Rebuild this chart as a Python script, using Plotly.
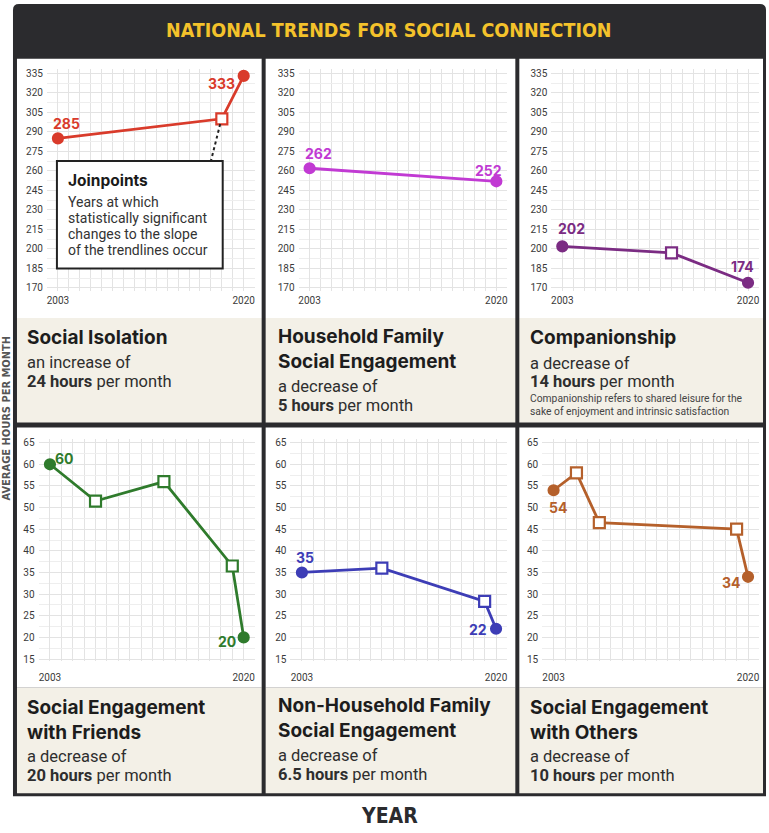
import plotly.graph_objects as go

W, H = 769, 833

# ---- data: hours per month, endpoints and joinpoint years ----
years_isolation = [2003, 2018, 2020]
hours_isolation = [285, 300, 333]

years_household = [2003, 2020]
hours_household = [262, 252]

years_companion = [2003, 2013, 2020]
hours_companion = [202, 197, 174]

years_friends = [2003, 2007, 2013, 2019, 2020]
hours_friends = [60, 51.5, 56, 36.5, 20]

years_nonhousehold = [2003, 2010, 2019, 2020]
hours_nonhousehold = [35, 36, 28.3, 22]

years_others = [2003, 2005, 2007, 2019, 2020]
hours_others = [54, 58, 46.5, 45, 34]

x_ticks = [2003, 2020]
y_ticks_top = list(range(170, 336, 15))
y_ticks_bottom = list(range(15, 66, 5))

titles = [
    ["Social Isolation"],
    ["Household Family", "Social Engagement"],
    ["Companionship"],
    ["Social Engagement", "with Friends"],
    ["Non-Household Family", "Social Engagement"],
    ["Social Engagement", "with Others"],
]
changes = [
    ("an increase of", "24 hours"),
    ("a decrease of", "5 hours"),
    ("a decrease of", "14 hours"),
    ("a decrease of", "20 hours"),
    ("a decrease of", "6.5 hours"),
    ("a decrease of", "10 hours"),
]
companion_note = [
    "Companionship refers to shared leisure for the",
    "sake of enjoyment and intrinsic satisfaction",
]

# ---- styling / layout helpers (pixel -> paper) ----
def px(x):
    return x / W


def py(y):
    return 1 - y / H


FRAME = "#2b2b2e"
BEIGE = "#f3f0e7"
GRID = "#e3e3e3"
GRID_MINOR = "#eeeeee"
TEXT = "#1d1d1d"
SUB = "#2e2e2e"
FONT = "Roboto"
HEAD = "Inter, Roboto, sans-serif"
NARROW = "DejaVu Sans Condensed, Liberation Sans Narrow, Roboto, sans-serif"

cols = [(17, 262), (266, 516), (520, 764)]
rows = [dict(chart=(57, 318), text=(318, 423)), dict(chart=(428, 690), text=(690, 796))]

panels = [
    dict(years=years_isolation, hours=hours_isolation, color="#d93b2b",
         xmap=((2003, 58), (2020, 244)), labels={0: (9, 15), -1: (-22, -8)}),
    dict(years=years_household, hours=hours_household, color="#c13ad3",
         xmap=((2003, 310), (2020, 497)), labels={0: (9, 15), -1: (-8, 11)}),
    dict(years=years_companion, hours=hours_companion, color="#7b2c83",
         xmap=((2003, 563), (2020, 749)), labels={0: (9, 18), -1: (-6, 16)}),
    dict(years=years_friends, hours=hours_friends, color="#2f7b2c",
         xmap=((2003, 50), (2020, 244)), labels={0: (15, 6), -1: (-17, -4)}),
    dict(years=years_nonhousehold, hours=hours_nonhousehold, color="#3d3db6",
         xmap=((2003, 302.3), (2020, 496.7)), labels={0: (3, 15), -1: (-18, -1)}),
    dict(years=years_others, hours=hours_others, color="#b5602b",
         xmap=((2003, 554.3), (2020, 749)), labels={0: (4, -17), -1: (-17, -6)}),
]

ymaps = [((335, 71.7), (170, 287.7)), ((65, 443.3), (15, 661))]
x_range = [2002, 2021]
y_ranges = [[168, 338], [14.5, 65.8]]


def domain(vmap, rng, vertical):
    (v1, p1), (v2, p2) = vmap
    k = (p2 - p1) / (v2 - v1)
    a = p1 + (rng[0] - v1) * k
    b = p1 + (rng[1] - v1) * k
    if vertical:
        return [py(a), py(b)]
    return [px(a), px(b)]


def paper_text(x, y, text, size, color, family=FONT, xanchor="left", **kw):
    return dict(x=px(x), y=py(y), xref="paper", yref="paper", xanchor=xanchor,
                yanchor="middle", showarrow=False, text=text,
                font=dict(family=family, size=size, color=color), **kw)


fig = go.Figure()
layout_axes = {}
annotations = []
shapes = []

# frame, title bar and panel backgrounds
shapes.append(dict(type="path", xref="paper", yref="paper", layer="below",
                   path=f"M {px(13)} {py(799)} L {px(13)} {py(8)} Q {px(13)} {py(2)} {px(19)} {py(2)} "
                        f"L {px(761)} {py(2)} Q {px(767)} {py(2)} {px(767)} {py(8)} L {px(767)} {py(799)} Z",
                   fillcolor=FRAME, line=dict(width=0)))
for r in rows:
    for (x0, x1) in cols:
        shapes.append(dict(type="rect", xref="paper", yref="paper", layer="below",
                           x0=px(x0), x1=px(x1), y0=py(r["chart"][0]), y1=py(r["chart"][1]),
                           fillcolor="#ffffff", line=dict(width=0)))
        shapes.append(dict(type="rect", xref="paper", yref="paper", layer="below",
                           x0=px(x0), x1=px(x1), y0=py(r["text"][0]), y1=py(r["text"][1]),
                           fillcolor=BEIGE, line=dict(width=0)))

for i, p in enumerate(panels):
    n = i + 1
    row = i // 3
    xa = "xaxis" if n == 1 else f"xaxis{n}"
    ya = "yaxis" if n == 1 else f"yaxis{n}"
    xr = "x" if n == 1 else f"x{n}"
    yr = "y" if n == 1 else f"y{n}"

    c = p["color"]
    npts = len(p["years"])
    symbols = ["circle"] + ["square"] * (npts - 2) + ["circle"]
    fills = [c] + ["#ffffff"] * (npts - 2) + [c]
    sizes = [10] + [11] * (npts - 2) + [10]
    fig.add_trace(go.Scatter(
        x=p["years"], y=p["hours"], mode="lines+markers", xaxis=xr, yaxis=yr,
        line=dict(color=c, width=2.8),
        marker=dict(symbol=symbols, color=fills, size=sizes, opacity=1,
                    line=dict(color=c, width=2.2)),
        showlegend=False, hoverinfo="x+y",
    ))

    for idx, (dx, dy) in p["labels"].items():
        v = p["hours"][idx]
        annotations.append(dict(
            x=p["years"][idx], y=v, xref=xr, yref=yr, text=f"<b>{v:g}</b>",
            showarrow=False, xshift=dx, yshift=dy, xanchor="center", yanchor="middle",
            font=dict(family=HEAD, size=14, color=c),
        ))

    yt = y_ticks_top if row == 0 else y_ticks_bottom
    step = yt[1] - yt[0]
    layout_axes[xa] = dict(
        domain=domain(p["xmap"], x_range, False), range=x_range, anchor=yr,
        tickmode="array", tickvals=x_ticks, ticktext=[str(t) for t in x_ticks],
        showgrid=True, gridcolor=GRID, gridwidth=1, zeroline=False, showline=False,
        ticks="", ticklabelstandoff=2 if row == 0 else 9,
        tickfont=dict(family=FONT, size=10, color="#3a3a3a"),
        minor=dict(tickmode="linear", tick0=2002, dtick=1, showgrid=True,
                   gridcolor=GRID, gridwidth=1),
        fixedrange=True,
    )
    layout_axes[ya] = dict(
        domain=domain(ymaps[row], y_ranges[row], True), range=y_ranges[row], anchor=xr,
        tickmode="array", tickvals=yt, ticktext=[str(t) for t in yt],
        showgrid=True, gridcolor=GRID, gridwidth=1, zeroline=False, showline=False,
        ticks="", ticklabelstandoff=3,
        tickfont=dict(family=FONT, size=10, color="#3a3a3a"),
        minor=dict(tickmode="linear", tick0=yt[0] - step / 2, dtick=step / 2, showgrid=True,
                   gridcolor=GRID_MINOR, gridwidth=1),
        fixedrange=True,
    )

# panel captions: heading (one or two lines), change statement
text_x = [25, 276, 529]
caption_y = [
    [337.5, 362.5, 381.5],
    [349, 386.5, 405.5],
    [337.5, 364, 381.5],
    [722, 759, 778],
    [720, 758, 777],
    [722, 759, 778],
]
for i in range(6):
    x0 = text_x[i % 3]
    ys = caption_y[i]
    heading = "<br>".join(f"<b>{line}</b>" for line in titles[i])
    annotations.append(paper_text(x0, ys[0], heading, 19, TEXT, family=HEAD, align="left"))
    lead, amount = changes[i]
    annotations.append(paper_text(x0, ys[1], lead, 16.5, SUB))
    annotations.append(paper_text(x0, ys[2], f"<b>{amount}</b> per month", 16.5, SUB))

for line, yy in zip(companion_note, [398.5, 412]):
    annotations.append(paper_text(529, yy, line, 10.3, "#444444"))

# joinpoint call-out in the first panel
shapes.append(dict(type="line", xref="x", yref="y", x0=2017.85, y0=296, x1=2017.0, y1=267.5,
                   line=dict(color="#222222", width=2, dash="dot"), layer="above"))
shapes.append(dict(type="rect", xref="paper", yref="paper", x0=px(57), x1=px(223),
                   y0=py(268), y1=py(160), fillcolor="#ffffff",
                   line=dict(color="#222222", width=2), layer="above"))
annotations.append(paper_text(66, 180, "<b>Joinpoints</b>", 15.5, "#1a1a1a", family=HEAD))
for line, yy in zip(["Years at which", "statistically significant",
                     "changes to the slope", "of the trendlines occur"], [201, 217, 233, 249]):
    annotations.append(paper_text(66, yy, line, 14, "#333333"))

# headline and axis captions
annotations.append(paper_text(390, 29, "<b>NATIONAL TRENDS FOR SOCIAL CONNECTION</b>",
                              19.5, "#f4c22b", family=NARROW, xanchor="center"))
annotations.append(paper_text(390, 819, "<b>YEAR</b>", 21, FRAME, family=NARROW,
                              xanchor="center"))
annotations.append(paper_text(6, 418, "<b>AVERAGE HOURS PER MONTH</b>", 11, "#555555",
                              family=NARROW, xanchor="center", textangle=-90))

fig.update_layout(
    width=W, height=H, margin=dict(l=0, r=0, t=0, b=0),
    paper_bgcolor="#ffffff", plot_bgcolor="rgba(0,0,0,0)",
    shapes=shapes, annotations=annotations, showlegend=False,
    **layout_axes,
)

fig.write_html("out.html")
